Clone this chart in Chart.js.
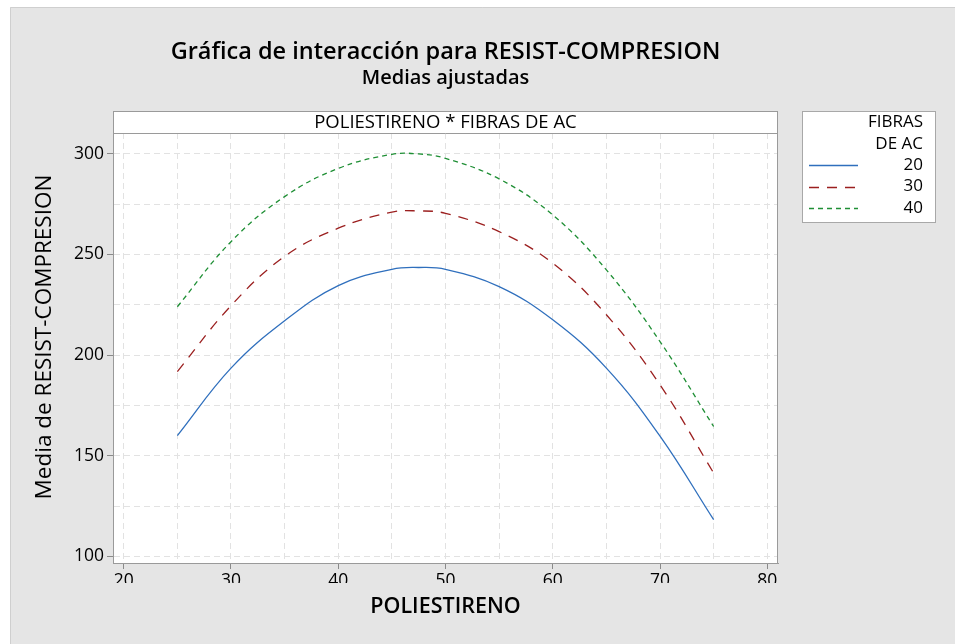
<!DOCTYPE html>
<html>
<head>
<meta charset="utf-8">
<script src="https://cdn.jsdelivr.net/npm/chart.js@4"></script>
<style>
html,body{margin:0;padding:0;background:#fff;}
#wrap{position:relative;width:955px;height:644px;}
canvas{display:block;}
</style>
</head>
<body>
<div id="wrap"><canvas id="c" width="955" height="644"></canvas></div>
<script>
// ---- data ----
const poliestireno = [25, 30, 35, 40, 45, 47.5, 50, 55, 60, 65, 70, 75];
const fibras20 = [160.0, 193.5, 217.0, 234.5, 242.6, 243.5, 242.6, 234.0, 217.5, 193.5, 159.7, 118.2];
const fibras30 = [191.8, 224.5, 249.0, 263.0, 271.0, 271.6, 270.4, 261.3, 245.6, 220.0, 185.2, 141.4];
const fibras40 = [224.0, 256.3, 278.7, 292.7, 299.7, 299.9, 297.7, 287.5, 269.6, 242.3, 206.7, 164.5];
const seriesLabels = ['20', '30', '40'];
const xGridValues = [20, 25, 30, 35, 40, 45, 50, 55, 60, 65, 70, 75, 80];
const xTickLabels = [20, 30, 40, 50, 60, 70, 80];
const yGridValues = [100, 125, 150, 175, 200, 225, 250, 275, 300];
const yTickLabels = [100, 150, 200, 250, 300];

const chartTitle = 'Gráfica de interacción para RESIST-COMPRESION';
const chartSubtitle = 'Medias ajustadas';
const panelTitle = 'POLIESTIRENO * FIBRAS DE AC';
const xTitle = 'POLIESTIRENO';
const yTitle = 'Media de RESIST-COMPRESION';
const legendTitle = ['FIBRAS', 'DE AC'];

const FONT = "'Open Sans', 'Noto Sans', sans-serif";
const colors = ['#2f6fbd', '#9b1f1f', '#1f8f35'];
const dashes = [[], [10, 8], [5, 4]];

function toXY(ys) { return poliestireno.map((x, i) => ({x: x, y: ys[i]})); }

const decor = {
  id: 'decor',
  beforeDraw(chart) {
    const ctx = chart.ctx;
    const a = chart.chartArea;
    ctx.save();
    ctx.fillStyle = '#ffffff';
    ctx.fillRect(0, 0, chart.width, chart.height);
    ctx.fillStyle = '#e5e5e5';
    ctx.fillRect(10, 7, chart.width - 10, chart.height - 7);
    ctx.strokeStyle = '#cfcfcf';
    ctx.lineWidth = 1;
    ctx.beginPath();
    ctx.moveTo(10.5, chart.height); ctx.lineTo(10.5, 7.5); ctx.lineTo(chart.width, 7.5);
    ctx.stroke();
    const headTop = a.top - 22;
    ctx.fillStyle = '#ffffff';
    ctx.fillRect(a.left, headTop, a.right - a.left, a.bottom - headTop);
    ctx.restore();
  },
  afterDraw(chart) {
    const ctx = chart.ctx;
    const a = chart.chartArea;
    const headTop = a.top - 22;
    ctx.save();
    ctx.strokeStyle = '#9a9a9a';
    ctx.lineWidth = 1;
    ctx.strokeRect(Math.round(a.left) + 0.5, Math.round(headTop) + 0.5, Math.round(a.right - a.left) - 1, Math.round(a.bottom - headTop));
    ctx.beginPath();
    ctx.moveTo(a.left, Math.round(a.top) + 0.5); ctx.lineTo(a.right, Math.round(a.top) + 0.5);
    ctx.stroke();
    ctx.fillStyle = '#000';
    ctx.textAlign = 'center';
    ctx.textBaseline = 'middle';
    ctx.font = "500 18.5px " + FONT;
    ctx.fillText(panelTitle, (a.left + a.right) / 2, headTop + 11.5);
    const cx = (a.left + a.right) / 2;
    ctx.font = "600 23.5px " + FONT;
    ctx.fillText(chartTitle, cx, 52);
    ctx.font = "600 20px " + FONT;
    ctx.fillText(chartSubtitle, cx, 78);
    ctx.font = "600 21.5px " + FONT;
    ctx.fillText(xTitle, cx, 607);
    ctx.save();
    ctx.translate(45, (headTop + a.bottom) / 2);
    ctx.rotate(-Math.PI / 2);
    ctx.font = "500 22.5px " + FONT;
    ctx.fillText(yTitle, 0, 0);
    ctx.restore();
    // legend
    const lx = 802, ly = 111, lw = 134, lh = 112;
    ctx.fillStyle = '#ffffff';
    ctx.fillRect(lx, ly, lw, lh);
    ctx.strokeStyle = '#a8a8a8';
    ctx.strokeRect(lx + 0.5, ly + 0.5, lw - 1, lh - 1);
    ctx.fillStyle = '#000';
    ctx.textAlign = 'right';
    ctx.font = "500 17px " + FONT;
    ctx.fillText(legendTitle[0], 923, 122);
    ctx.fillText(legendTitle[1], 923, 144);
    chart.data.datasets.forEach((ds, i) => {
      const y = 165 + i * 21.5;
      ctx.save();
      ctx.strokeStyle = ds.borderColor;
      ctx.lineWidth = 1.4;
      ctx.setLineDash(ds.borderDash || []);
      ctx.beginPath();
      ctx.moveTo(809, Math.round(y) + 0.5);
      ctx.lineTo(858, Math.round(y) + 0.5);
      ctx.stroke();
      ctx.restore();
      ctx.fillText(ds.label, 923, y);
    });
    ctx.restore();
  }
};

new Chart(document.getElementById('c'), {
  type: 'line',
  data: {
    datasets: [fibras20, fibras30, fibras40].map((s, i) => ({
      label: seriesLabels[i],
      data: toXY(s),
      borderColor: colors[i],
      borderWidth: 1.3,
      borderDash: dashes[i],
      pointRadius: 0,
      tension: 0.4,
      fill: false
    }))
  },
  options: {
    responsive: false,
    animation: false,
    devicePixelRatio: 1,
    layout: {padding: {left: 10, top: 133, right: 177, bottom: 61}},
    plugins: {legend: {display: false}, title: {display: false}, tooltip: {enabled: false}},
    scales: {
      x: {
        type: 'linear', min: 19, max: 81,
        afterBuildTicks: s => { s.ticks = xGridValues.map(v => ({value: v})); },
        afterFit: s => { s.height = 20; },
        grid: {
          color: '#e2e2e2', lineWidth: 1, tickLength: 6,
          tickColor: c => xTickLabels.includes(c.tick && c.tick.value) ? '#8a8a8a' : 'rgba(0,0,0,0)'
        },
        border: {display: true, color: '#9a9a9a', dash: [6, 4]},
        ticks: {
          autoSkip: false, maxRotation: 0, padding: 2, color: '#000',
          font: {family: FONT, size: 17.5, weight: 500},
          callback: v => xTickLabels.includes(v) ? String(v) : ''
        }
      },
      y: {
        type: 'linear', min: 96.7, max: 310.3,
        afterBuildTicks: s => { s.ticks = yGridValues.map(v => ({value: v})); },
        afterFit: s => { s.width = 103; },
        grid: {
          color: '#e2e2e2', lineWidth: 1, tickLength: 6,
          tickColor: c => yTickLabels.includes(c.tick && c.tick.value) ? '#8a8a8a' : 'rgba(0,0,0,0)'
        },
        border: {display: true, color: '#9a9a9a', dash: [6, 4]},
        ticks: {
          autoSkip: false, padding: 3, color: '#000',
          font: {family: FONT, size: 17.5, weight: 500},
          callback: v => yTickLabels.includes(v) ? String(v) : ''
        }
      }
    }
  },
  plugins: [decor]
});
</script>
</body>
</html>
